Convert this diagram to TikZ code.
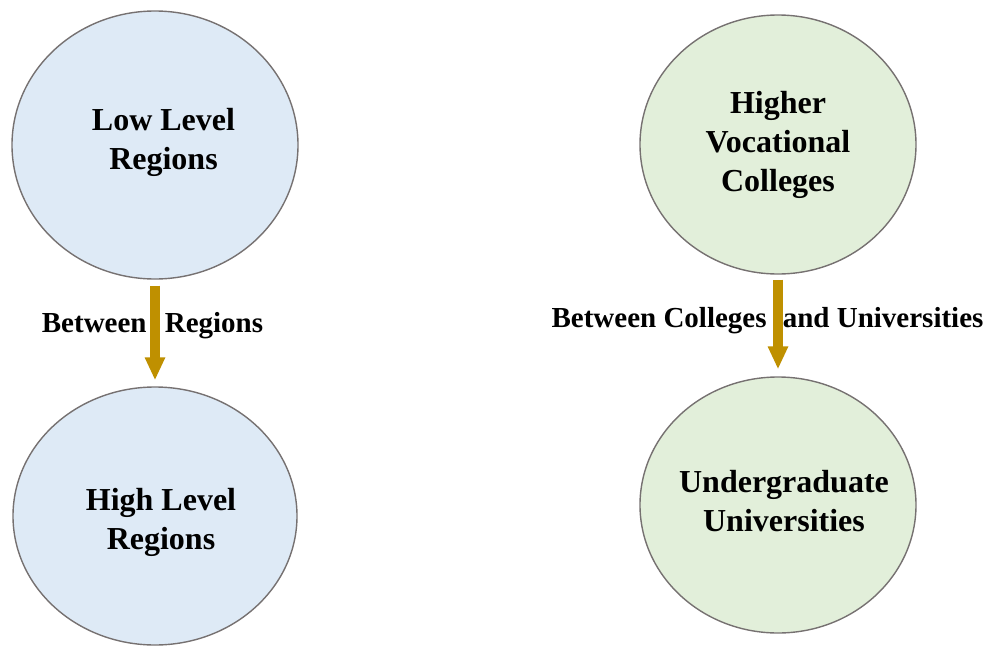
\documentclass[tikz,border=0pt]{standalone}
\usepackage{fontspec}
\setmainfont{Liberation Serif}
\usepackage{tikz}
\usetikzlibrary{shapes.geometric, arrows.meta, positioning}
\definecolor{regionblue}{HTML}{DEEAF6}
\definecolor{collegegreen}{HTML}{E2EFDA}
\definecolor{rimgray}{HTML}{767171}
\definecolor{flowgold}{HTML}{BF9000}
\tikzset{
    blob/.style={ellipse, draw=rimgray, line width=1.4pt, inner sep=0pt},
    region/.style={blob, fill=regionblue},
    school/.style={blob, fill=collegegreen},
    bigtext/.style={align=center, font=\fontsize{32}{39}\selectfont\bfseries},
    flowtext/.style={anchor=base, font=\fontsize{29}{34}\selectfont\bfseries},
    flow/.style={line width=10pt, draw=flowgold, -{Triangle[width=19pt, length=23pt]}}
}

\begin{document}
\begin{tikzpicture}[x=1pt, y=-1pt]
    \useasboundingbox (0,0) rectangle (989,646);
    % Regions
    \node (low) [region, minimum width=286pt, minimum height=268pt] at (155,145) {};
    \node (high) [region, minimum width=284pt, minimum height=258pt] at (155,516) {};
    \node (low_text) [bigtext, xshift=8.5pt, yshift=3pt] at (low) {Low Level\\Regions};
    \node (high_text) [bigtext, xshift=6pt, yshift=-6pt] at (high) {High Level\\Regions};
    % Colleges and universities
    \node (vocational) [school, minimum width=276pt, minimum height=259pt] at (778,144.5) {};
    \node (university) [school, minimum width=276pt, minimum height=256pt] at (778,505) {};
    \node (vocational_text) [bigtext] at (vocational) {Higher\\Vocational\\Colleges};
    \node (university_text) [bigtext, xshift=6pt, yshift=4pt] at (university) {Undergraduate\\Universities};
    % Labels
    \node (region_flow) [flowtext] at (152.5,332) {Between\hspace{11pt} Regions};
    \node (school_flow) [flowtext] at (767.5,327) {Between Colleges\hspace{9pt} and Universities};
    % Arrows
    \draw [flow, shorten <=6pt, shorten >=6pt] (low) -- (high);
    \draw [flow, shorten <=5pt, shorten >=7pt] (vocational) -- (university);
\end{tikzpicture}
\end{document}
